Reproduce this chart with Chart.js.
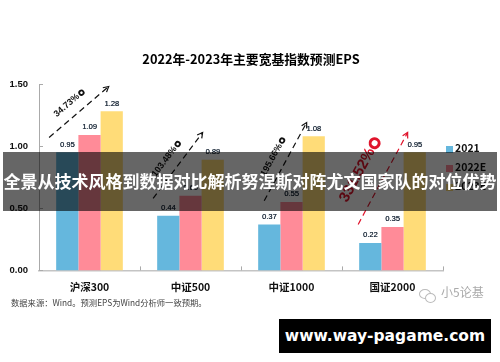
<!DOCTYPE html>
<html><head><meta charset="utf-8">
<script src="https://cdn.jsdelivr.net/npm/chart.js@4"></script>
<style>
html,body{margin:0;padding:0;background:#fff;width:500px;height:362px;overflow:hidden;font-family:"Noto Sans CJK SC","Liberation Sans",sans-serif}
#c{position:absolute;left:0;top:0}
.t{position:absolute;white-space:nowrap}
#title{left:1px;width:500px;top:49px;text-align:center;font:bold 12.8px "Noto Sans CJK SC";color:#000;line-height:20px}
#band{left:3px;top:152px;width:494px;height:59px;background:rgba(0,0,0,.6)}
#bandt{left:0;top:167px;width:500px;text-align:center;color:#fff;font:bold 17px/28px "Noto Sans CJK SC"}
#src{left:11px;top:296px;font:8.3px/12px "Noto Sans CJK SC";color:#444}
#wm{left:441px;top:284px;font:12px/16px "Noto Sans CJK SC";color:#aaa}
#box{left:279px;top:319px;width:212px;height:34px;background:#000;color:#fff;text-align:center;font:bold 15.5px/34px "DejaVu Sans"}
.ic{position:absolute;border:1px solid #bbb;border-radius:50%;background:#fff}
.sw{position:absolute;left:446px;width:7px;height:7px}
.lg{position:absolute;left:455px;font:bold 10.5px/14px 'Noto Sans CJK SC';color:#111}
</style></head><body>
<canvas id="c" width="500" height="362"></canvas>
<div class="t" id="title">2022年-2023年主要宽基指数预测EPS</div>
<div class="t" id="src">数据来源：Wind。预测EPS为Wind分析师一致预期。</div>
<div class="ic" style="left:419px;top:289px;width:10px;height:8px"></div>
<div class="ic" style="left:425px;top:293px;width:9px;height:8px"></div>
<div class="t" id="wm">小5论基</div>
<div class="sw" style="top:146px;background:#65b7dd"></div><div class="lg" style="top:141px">2021</div>
<div class="sw" style="top:165px;background:#ff8b98"></div><div class="lg" style="top:160px">2022E</div>
<div class="sw" style="top:184px;background:#ffdc78"></div><div class="lg" style="top:179px">2023E</div>
<div class="t" id="band"></div>
<div class="t" id="bandt">全景从技术风格到数据对比解析努涅斯对阵尤文国家队的对位优势</div>
<div class="t" id="box">www.way-pagame.com</div>
<script>
const categories=["沪深300","中证500","中证1000","国证2000"];
const values2021=[0.95,0.44,0.37,0.22];
const values2022=[1.09,0.60,0.55,0.35];
const values2023=[1.28,0.89,1.08,0.95];
const tickValues=[0,0.5,1,1.5];
const growthLabels=["34.73%","103.48%","195.66%","331.52%"];
const growthColors=["#111","#111","#111","#e0142c"];
const growthFrom=[[-0.4,1.07],[-0.37,0.58],[-0.27,0.56],[-0.34,0.37]];
const growthTo=[[0.19,1.48],[0.12,1.11],[0.15,1.19],[0.15,1.11]];

const overlay={id:'overlay',afterDatasetsDraw(ch){
  const {ctx,scales:{x,y}}=ch;
  ctx.save();
  // inward tick marks
  ctx.strokeStyle='#aaa';ctx.lineWidth=1;ctx.beginPath();
  tickValues.forEach(v=>{const p=Math.round(y.getPixelForValue(v))+.5;ctx.moveTo(x.left,p);ctx.lineTo(x.left+4,p);});
  for(let i=0;i<=categories.length;i++){const p=Math.round(x.left+i*x.width/categories.length)+.5;ctx.moveTo(p,y.bottom);ctx.lineTo(p,y.bottom-4);}
  ctx.stroke();
  // data labels
  ctx.font='7.5px "Liberation Sans"';ctx.fillStyle='#1f2d3d';ctx.textAlign='center';ctx.textBaseline='bottom';
  ch.data.datasets.forEach((d,i)=>{const m=ch.getDatasetMeta(i);
    d.data.forEach((v,j)=>{ctx.fillText(v.toFixed(2),m.data[j].x,m.data[j].y-4);ctx.fillText(v.toFixed(2),m.data[j].x+.3,m.data[j].y-4);});});
  // growth arrows
  growthFrom.forEach((f,i)=>{
    const x0=x.getPixelForValue(i)+f[0]*x.width/4, y0=y.getPixelForValue(f[1]);
    const x1=x.getPixelForValue(i)+growthTo[i][0]*x.width/4, y1=y.getPixelForValue(growthTo[i][1]);
    const a=Math.atan2(y1-y0,x1-x0);
    ctx.strokeStyle=growthColors[i];ctx.fillStyle=growthColors[i];ctx.lineWidth=1.2;
    ctx.setLineDash([6,4]);ctx.beginPath();ctx.moveTo(x0,y0);ctx.lineTo(x1,y1);ctx.stroke();ctx.setLineDash([]);
    ctx.beginPath();ctx.moveTo(x1-6*Math.cos(a-.5),y1-6*Math.sin(a-.5));ctx.lineTo(x1,y1);ctx.lineTo(x1-6*Math.cos(a+.5),y1-6*Math.sin(a+.5));ctx.stroke();
    const red=i===3;
    const mx=(x0+x1)/2,my=(y0+y1)/2,off=red?24:13,al=red?-7:-3;
    ctx.save();ctx.translate(mx+off*Math.sin(a)+al*Math.cos(a),my-off*Math.cos(a)+al*Math.sin(a));ctx.rotate(a);
    ctx.font=(red?'bold 15px':'bold 9px')+' "Liberation Sans"';ctx.textAlign='center';ctx.textBaseline='middle';
    ctx.fillText(growthLabels[i],-2,0);
    const w=ctx.measureText(growthLabels[i]).width,r=red?4.5:2.2;
    ctx.lineWidth=red?3:1.8;ctx.beginPath();ctx.ellipse(w/2+r,0,r,r,0,0,7);ctx.stroke();
    ctx.restore();
  });
  ctx.restore();
}};
new Chart(document.getElementById('c'),{type:'bar',plugins:[overlay],
 data:{labels:categories,datasets:[
  {label:'2021',data:values2021,backgroundColor:'#65b7dd'},
  {label:'2022E',data:values2022,backgroundColor:'#ff8b98'},
  {label:'2023E',data:values2023,backgroundColor:'#ffdc78'}]},
 options:{responsive:false,animation:false,
  layout:{padding:{left:0,right:57,top:84,bottom:67}},
  plugins:{title:{display:false},tooltip:{enabled:false},legend:{display:false}},
  datasets:{bar:{categoryPercentage:0.66,barPercentage:1,borderWidth:0}},
  scales:{
   x:{grid:{display:false},border:{color:'#c4c4c4',width:1.5},
      ticks:{color:'#111',font:{family:'"Noto Sans CJK SC"',weight:'bold',size:10.5},padding:2}},
   y:{min:0,max:1.5,afterFit(s){s.width=39},afterBuildTicks(s){s.ticks=tickValues.map(v=>({value:v}))},
      grid:{display:false},border:{color:'#aaa',width:1},
      ticks:{color:'#111',font:{family:'"Liberation Sans"',weight:'bold',size:9.5},padding:3,callback:v=>v.toFixed(2)}}
  }}});
</script>
</body></html>
